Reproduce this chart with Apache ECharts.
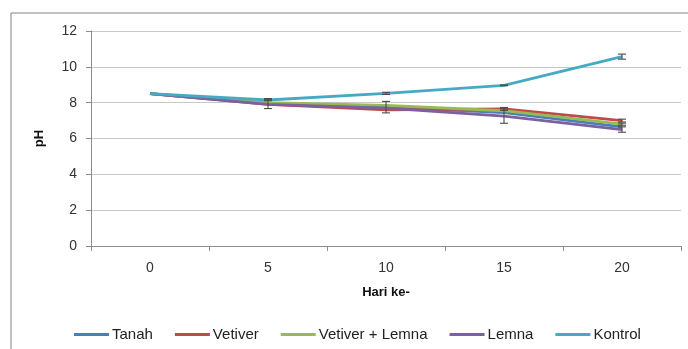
<!DOCTYPE html>
<html><head><meta charset="utf-8">
<script src="https://cdn.jsdelivr.net/npm/echarts@6/dist/echarts.min.js"></script>
<style>html,body{margin:0;padding:0;background:#fff}#c{width:688px;height:349px}</style>
</head><body><div id="c"></div>
<script>
const categories = ['0', '5', '10', '15', '20'];
const seriesNames = ['Tanah', 'Vetiver', 'Vetiver + Lemna', 'Lemna', 'Kontrol'];
const tanah = [8.5, 7.95, 7.75, 7.45, 6.65];
const vetiver = [8.5, 7.9, 7.6, 7.65, 7.0];
const vetiverLemna = [8.5, 8.0, 7.85, 7.55, 6.8];
const lemna = [8.5, 7.9, 7.7, 7.25, 6.5];
const kontrol = [8.5, 8.15, 8.52, 8.97, 10.57];
const errTanah = [0, 0.28, 0.32, 0, 0];
const errVetiver = [0, 0, 0, 0.08, 0.08];
const errVetiverLemna = [0, 0, 0, 0, 0.06];
const errLemna = [0, 0, 0, 0.4, 0.15];
const errKontrol = [0, 0.04, 0.06, 0.02, 0.14];
const yTicks = [0, 2, 4, 6, 8, 10, 12];

const values = [tanah, vetiver, vetiverLemna, lemna, kontrol];
const errors = [errTanah, errVetiver, errVetiverLemna, errLemna, errKontrol];
const colors = ['#4A7EBB', '#BE4B48', '#98B954', '#7D60A0', '#46AAC5'];
const font = 'Liberation Sans';

const chart = echarts.init(document.getElementById('c'));
const lineSeries = seriesNames.map((n, i) => ({
  name: n, type: 'line', data: values[i], symbol: 'none',
  lineStyle: { width: 2.8, color: colors[i] }, itemStyle: { color: colors[i] },
  z: 2 + i
}));
const errData = [];
values.forEach((arr, i) => arr.forEach((v, j) => {
  if (errors[i][j] > 0) errData.push([j, v, errors[i][j]]);
}));
const errSeries = {
  type: 'custom', data: errData, z: 10, silent: true,
  renderItem: function (params, api) {
    const x = api.value(0), y = api.value(1), e = api.value(2);
    const hi = api.coord([x, y + e]), lo = api.coord([x, y - e]);
    const w = 4;
    const st = { stroke: '#4a4a4a', lineWidth: 1.1 };
    return { type: 'group', children: [
      { type: 'line', shape: { x1: hi[0], y1: hi[1], x2: lo[0], y2: lo[1] }, style: st },
      { type: 'line', shape: { x1: hi[0] - w, y1: hi[1], x2: hi[0] + w, y2: hi[1] }, style: st },
      { type: 'line', shape: { x1: lo[0] - w, y1: lo[1], x2: lo[0] + w, y2: lo[1] }, style: st }
    ]};
  }
};

chart.setOption({
  animation: false,
  textStyle: { fontFamily: font },
  graphic: [{ type: 'rect', shape: { x: 11, y: 13, width: 700, height: 400 },
    style: { fill: 'none', stroke: '#858585', lineWidth: 1 }, silent: true }],
  grid: { left: 91, right: 7, top: 31, bottom: 103 },
  legend: {
    data: seriesNames, left: 69, top: 322, icon: 'rect', itemWidth: 35, itemHeight: 3,
    itemGap: 22, textStyle: { fontFamily: font, fontSize: 15, color: '#222', padding: [0, 0, 0, -2] }
  },
  xAxis: {
    type: 'category', data: categories, boundaryGap: true,
    name: 'Hari ke-', nameLocation: 'middle', nameGap: 40,
    nameTextStyle: { fontFamily: font, fontWeight: 'bold', fontSize: 13, color: '#111' },
    axisLine: { lineStyle: { color: '#8c8c8c' } },
    axisTick: { show: true, length: 5, lineStyle: { color: '#8c8c8c' } },
    axisLabel: { fontFamily: font, fontSize: 14, color: '#333', margin: 15 }
  },
  yAxis: {
    type: 'value', min: yTicks[0], max: yTicks[yTicks.length - 1], interval: 2,
    name: 'pH', nameLocation: 'middle', nameGap: 45, nameRotate: 90,
    nameTextStyle: { fontFamily: font, fontWeight: 'bold', fontSize: 13, color: '#111' },
    axisLine: { show: true, lineStyle: { color: '#8c8c8c' } },
    axisTick: { show: true, length: 5, lineStyle: { color: '#8c8c8c' } },
    axisLabel: { fontFamily: font, fontSize: 14, color: '#333', margin: 14 },
    splitLine: { lineStyle: { color: '#c8c8c8', width: 1 } }
  },
  series: lineSeries.concat([errSeries])
});
</script></body></html>
